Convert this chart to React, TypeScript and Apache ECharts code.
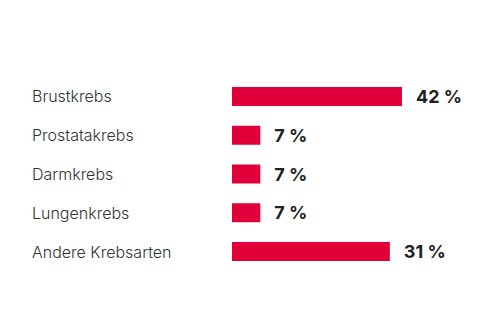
import React, { useEffect, useRef } from "react";
import * as echarts from "echarts";

const categories = ["Brustkrebs", "Prostatakrebs", "Darmkrebs", "Lungenkrebs", "Andere Krebsarten"];
// bar lengths as drawn in the reference (the last bar is drawn longer than its label)
const barValues = [42, 7, 7, 7, 39];
const valueLabels = ["42 %", "7 %", "7 %", "7 %", "31 %"];

export default function App() {
  const ref = useRef<HTMLDivElement>(null);
  useEffect(() => {
    document.body.style.margin = "0";
    const chart = echarts.init(ref.current!, null, { renderer: "svg" });
    chart.setOption({
      animation: false,
      grid: { left: 232, right: 98, top: 77, bottom: 333 - 271, containLabel: false },
      xAxis: {
        type: "value",
        min: 0,
        max: 42,
        show: false,
      },
      yAxis: {
        type: "category",
        data: categories,
        inverse: true,
        axisLine: { show: false },
        axisTick: { show: false },
        splitLine: { show: false },
        axisLabel: {
          align: "left",
          margin: 200,
          color: "#333",
          fontFamily: "Inter",
          fontWeight: 300,
          fontSize: 16,
          padding: [0, 0, 6, 0],
        },
      },
      series: [
        {
          type: "bar",
          data: barValues,
          barWidth: 19,
          itemStyle: { color: "#e2003a" },
          label: {
            show: true,
            position: "right",
            distance: 14,
            color: "#222",
            fontFamily: "Inter",
            fontWeight: "bold",
            fontSize: 18,
            formatter: (p: any) => valueLabels[p.dataIndex],
          },
        },
      ],
    });
    return () => chart.dispose();
  }, []);
  return <div ref={ref} style={{ width: 500, height: 333 }} />;
}
